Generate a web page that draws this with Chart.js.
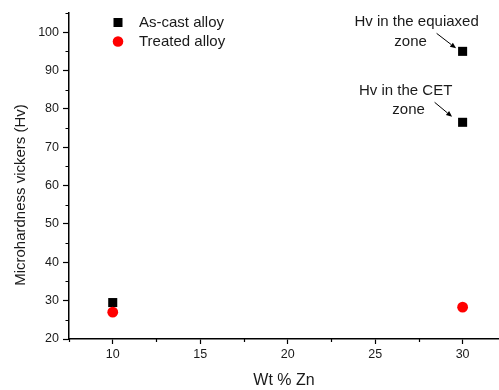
<!DOCTYPE html>
<html>
<head>
<meta charset="utf-8">
<script src="https://cdn.jsdelivr.net/npm/chart.js@4/dist/chart.umd.min.js"></script>
<style>
  html, body { margin: 0; padding: 0; background: #fff; overflow: hidden; }
  #myChart { display: block; }
</style>
</head>
<body>
<canvas id="myChart" width="499" height="390"></canvas>
<script>
// values
const cast_x = [10, 30, 30];
const cast_y = [29.5, 95, 76.5];
const treated_x = [10, 30];
const treated_y = [27, 28.3];

const series_names = ["As-cast alloy", "Treated alloy"];

const x_major_ticks = [10, 15, 20, 25, 30];
const x_minor_ticks = [7.5, 12.5, 17.5, 22.5, 27.5];
const y_major_ticks = [20, 30, 40, 50, 60, 70, 80, 90, 100];
const y_minor_ticks = [25, 35, 45, 55, 65, 75, 85, 95, 105];

// notes pointing at the two as-cast points at 30 wt%
const note_point_index = [1, 2];
const note_lines = [["Hv in the equiaxed", "zone"], ["Hv in the CET", "zone"]];

const font_family = "'Liberation Sans', Arial, sans-serif";
const text_color = '#1a1a1a';

var ctx = document.getElementById('myChart').getContext('2d');

function to_points(xs, ys) {
    return xs.map((x, i) => ({x: x, y: ys[i]}));
}

// short minor ticks, drawn after the axes
const minor_ticks_plugin = {
    id: 'minor_ticks',
    afterDraw(chart) {
        const c = chart.ctx;
        const xs = chart.scales.x, ys = chart.scales.y;
        c.save();
        c.strokeStyle = '#000';
        c.lineWidth = 1.2;
        c.beginPath();
        x_minor_ticks.forEach(v => {
            let px = Math.round(xs.getPixelForValue(v)) + 0.5;
            c.moveTo(px, ys.bottom);
            c.lineTo(px, ys.bottom + 3);
        });
        y_minor_ticks.forEach(v => {
            let py = Math.round(ys.getPixelForValue(v)) + 0.5;
            c.moveTo(xs.left, py);
            c.lineTo(xs.left - 3.5, py);
        });
        c.stroke();
        c.restore();
    }
};

// legend inside the plot, top left
const inner_legend_plugin = {
    id: 'inner_legend',
    afterDraw(chart) {
        const c = chart.ctx;
        const left = chart.chartArea.left;
        const top = chart.chartArea.top;
        c.save();
        c.font = '15px ' + font_family;
        c.textBaseline = 'middle';
        c.textAlign = 'left';
        chart.data.datasets.forEach((ds, i) => {
            let cx = left + 49;
            let cy = top + 9.5 + i * 19;
            c.fillStyle = ds.backgroundColor;
            if (ds.pointStyle === 'rect') {
                c.fillRect(cx - 4.5, cy - 4.5, 9, 9);
            } else {
                c.beginPath();
                c.arc(cx, cy, 5.3, 0, Math.PI * 2);
                c.fill();
            }
            c.fillStyle = text_color;
            c.fillText(series_names[i], left + 70, cy + 0.5);
        });
        c.restore();
    }
};

// text + arrow notes next to the points
const notes_plugin = {
    id: 'notes',
    afterDraw(chart) {
        const c = chart.ctx;
        const xs = chart.scales.x, ys = chart.scales.y;
        const line_offsets = [[[-46, -29], [-52, -9]], [[-57, -31], [-54, -12]]];
        const arrow_offsets = [[[-26, -18], [-6.5, -3]], [[-28, -20], [-10.5, -5.5]]];
        c.save();
        c.font = '15px ' + font_family;
        c.textAlign = 'center';
        c.textBaseline = 'middle';
        note_point_index.forEach((idx, n) => {
            let px = xs.getPixelForValue(cast_x[idx]);
            let py = ys.getPixelForValue(cast_y[idx]);
            c.fillStyle = text_color;
            note_lines[n].forEach((txt, k) => {
                c.fillText(txt, px + line_offsets[n][k][0], py + line_offsets[n][k][1]);
            });
            let x0 = px + arrow_offsets[n][0][0], y0 = py + arrow_offsets[n][0][1];
            let x1 = px + arrow_offsets[n][1][0], y1 = py + arrow_offsets[n][1][1];
            let ang = Math.atan2(y1 - y0, x1 - x0);
            let head = 6;
            c.strokeStyle = '#000';
            c.fillStyle = '#000';
            c.lineWidth = 1;
            c.beginPath();
            c.moveTo(x0, y0);
            c.lineTo(x1 - head * Math.cos(ang), y1 - head * Math.sin(ang));
            c.stroke();
            c.beginPath();
            c.moveTo(x1, y1);
            c.lineTo(x1 - head * Math.cos(ang) + 2.5 * Math.sin(ang), y1 - head * Math.sin(ang) - 2.5 * Math.cos(ang));
            c.lineTo(x1 - head * Math.cos(ang) - 2.5 * Math.sin(ang), y1 - head * Math.sin(ang) + 2.5 * Math.cos(ang));
            c.closePath();
            c.fill();
        });
        c.restore();
    }
};

// rotated y title, sits a bit below the axis centre like the original
const y_title_plugin = {
    id: 'y_title',
    afterDraw(chart) {
        const c = chart.ctx;
        c.save();
        c.font = '15px ' + font_family;
        c.fillStyle = text_color;
        c.textAlign = 'center';
        c.textBaseline = 'middle';
        c.translate(21, chart.chartArea.top + 182);
        c.rotate(-Math.PI / 2);
        c.fillText("Microhardness vickers (Hv)", 0, 0);
        c.restore();
    }
};

var chart = new Chart(ctx, {
    type: 'scatter',
    data: {
        datasets: [
            {
                label: series_names[0],
                data: to_points(cast_x, cast_y),
                pointStyle: 'rect',
                pointRadius: 6.4,
                pointHoverRadius: 6.4,
                borderWidth: 0,
                backgroundColor: '#000000',
                borderColor: '#000000',
                order: 2
            },
            {
                label: series_names[1],
                data: to_points(treated_x, treated_y),
                pointStyle: 'circle',
                pointRadius: 5.4,
                pointHoverRadius: 5.4,
                borderWidth: 0,
                backgroundColor: '#ff0000',
                borderColor: '#ff0000',
                order: 1
            }
        ]
    },
    options: {
        responsive: false,
        animation: false,
        events: [],
        layout: { autoPadding: false, padding: { top: 13, right: 0, left: 0, bottom: 0 } },
        plugins: {
            legend: { display: false },
            tooltip: { enabled: false }
        },
        scales: {
            x: {
                type: 'linear',
                min: 7.5,
                max: 32.08,
                afterBuildTicks: (scale) => { scale.ticks = x_major_ticks.map(v => ({value: v})); },
                afterFit: (scale) => {
                    scale.height = 51;
                    scale.paddingLeft = 0;
                    scale.paddingRight = 0;
                },
                grid: { display: true, drawOnChartArea: false, drawTicks: true, tickLength: 5, tickColor: '#000', tickWidth: 1.2 },
                border: { display: true, color: '#000', width: 1.5 },
                ticks: { color: text_color, padding: 3, font: { family: font_family, size: 12.5 }, maxRotation: 0 },
                title: { display: true, text: 'Wt % Zn', color: text_color, font: { family: font_family, size: 16 }, padding: { top: 4, bottom: 0 } }
            },
            y: {
                type: 'linear',
                min: 20,
                max: 105,
                afterBuildTicks: (scale) => { scale.ticks = y_major_ticks.map(v => ({value: v})); },
                afterFit: (scale) => {
                    scale.width = 69;
                    scale.paddingTop = 0;
                    scale.paddingBottom = 0;
                },
                grid: { display: true, drawOnChartArea: false, drawTicks: true, tickLength: 6, tickColor: '#000', tickWidth: 1.2 },
                border: { display: true, color: '#000', width: 1.5 },
                ticks: { color: text_color, padding: 4, font: { family: font_family, size: 12.5 } },
                title: { display: false }
            }
        }
    },
    plugins: [minor_ticks_plugin, inner_legend_plugin, notes_plugin, y_title_plugin]
});
</script>
</body>
</html>
